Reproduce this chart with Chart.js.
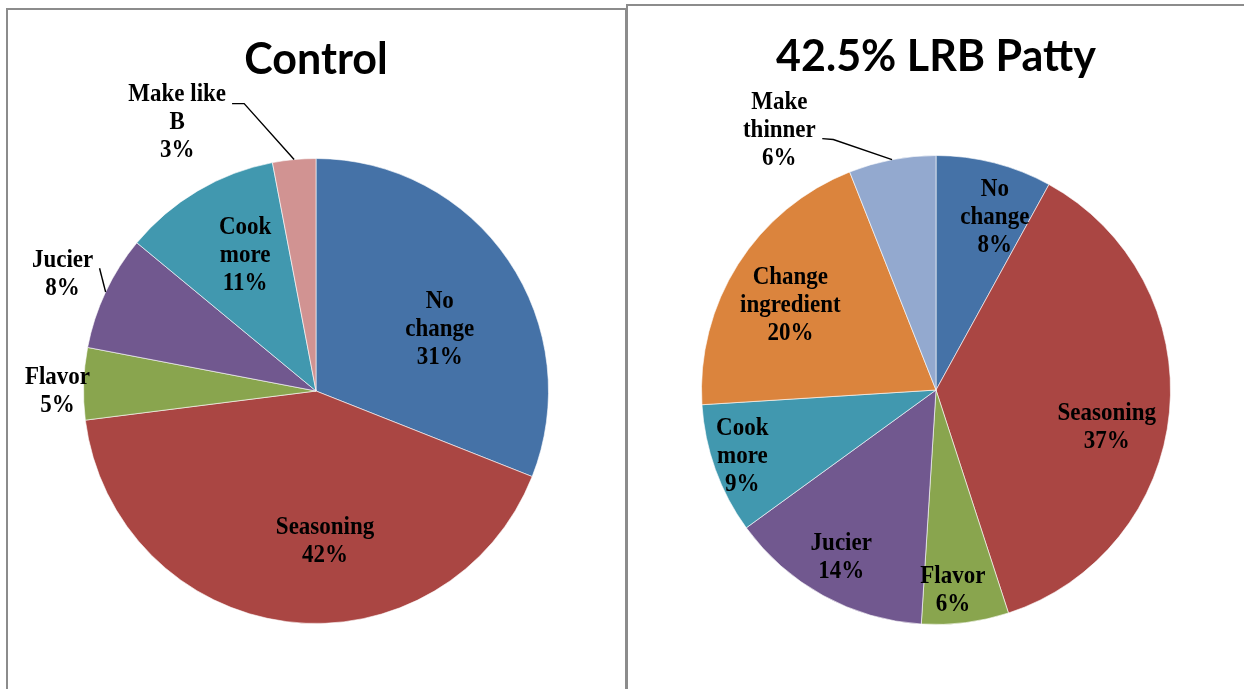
<!DOCTYPE html>
<html>
<head>
<meta charset="utf-8">
<script src="https://cdn.jsdelivr.net/npm/chart.js@4.4.1/dist/chart.umd.min.js"></script>
<style>
  html, body { margin: 0; padding: 0; background: #fff; }
  body { width: 1244px; height: 689px; position: relative; overflow: hidden; }
  .panel { position: absolute; border: 2px solid #8c8c8c; box-sizing: border-box; }
  #panelLeft { left: 6px; top: 8px; width: 621px; height: 720px; }
  #panelRight { left: 626px; top: 4px; width: 640px; height: 720px; }
  canvas { position: absolute; }
  #controlChart { left: 8px; top: 10px; }
  #lrbChart { left: 628px; top: 6px; }
</style>
</head>
<body>
<div class="panel" id="panelLeft"></div>
<div class="panel" id="panelRight"></div>
<canvas id="controlChart" width="616" height="679"></canvas>
<canvas id="lrbChart" width="616" height="683"></canvas>

<script>
// --- data ---
const controlCategories = [['No', 'change'], ['Seasoning'], ['Flavor'], ['Jucier'], ['Cook', 'more'], ['Make like', 'B']];
const controlValues = [31, 42, 5, 8, 11, 3];

const lrbCategories = [['No', 'change'], ['Seasoning'], ['Flavor'], ['Jucier'], ['Cook', 'more'], ['Change', 'ingredient'], ['Make', 'thinner']];
const lrbValues = [8, 37, 6, 14, 9, 20, 6];

// office palette
const BLUE = '#4572a7', RED = '#aa4643', GREEN = '#89a54e', PURPLE = '#71588f',
      TEAL = '#4198af', ORANGE = '#db843d', LIGHTBLUE = '#93a9cf', PINK = '#d19392';

const controlColors = [BLUE, RED, GREEN, PURPLE, TEAL, PINK];
const lrbColors = [BLUE, RED, GREEN, PURPLE, TEAL, ORANGE, LIGHTBLUE];

// label placement, as fractions of the pie radius from its centre
const controlLabelPos = [[0.532, -0.266], [0.039, 0.648], [-1.112, 0.004], [-1.09, -0.502], [-0.305, -0.584], [-0.597, -1.155]];
const lrbLabelPos = [[0.251, -0.736], [0.728, 0.162], [0.072, 0.855], [-0.404, 0.715], [-0.826, 0.285], [-0.621, -0.362], [-0.668, -1.106]];

// leader lines: index -> points (fractions of radius) before reaching the slice edge
const controlLeaders = { 3: [[-0.931, -0.528]], 5: [[-0.361, -1.236], [-0.309, -1.236]] };
const lrbLeaders = { 6: [[-0.485, -1.072], [-0.438, -1.068]] };

const LABEL_FONT = 'bold 25px "Liberation Serif", "Times New Roman", serif';
const LABEL_SQUEEZE = 0.92;   // narrower glyphs, like the printed labels
const LINE_H = 28;
const TITLE_SIZE = 43;

const pieLabels = {
    id: 'pieLabels',
    afterDatasetsDraw(chart, args, opts) {
        const ctx = chart.ctx;
        const arcs = chart.getDatasetMeta(0).data;
        const values = chart.data.datasets[0].data;
        const total = values.reduce((a, b) => a + b, 0);
        ctx.save();

        // leader lines
        ctx.strokeStyle = '#000';
        ctx.lineWidth = 1.4;
        Object.keys(opts.leaders || {}).forEach(k => {
            const arc = arcs[k];
            const p = arc.getProps(['x', 'y', 'startAngle', 'endAngle', 'outerRadius'], true);
            const mid = (p.startAngle + p.endAngle) / 2;
            ctx.beginPath();
            opts.leaders[k].forEach((pt, i) => {
                const px = p.x + pt[0] * p.outerRadius;
                const py = p.y + pt[1] * p.outerRadius;
                if (i === 0) ctx.moveTo(px, py); else ctx.lineTo(px, py);
            });
            ctx.lineTo(p.x + Math.cos(mid) * p.outerRadius, p.y + Math.sin(mid) * p.outerRadius);
            ctx.stroke();
        });

        // category + percent text
        ctx.font = LABEL_FONT;
        ctx.fillStyle = '#000';
        ctx.textAlign = 'center';
        ctx.textBaseline = 'middle';
        arcs.forEach((arc, i) => {
            const p = arc.getProps(['x', 'y', 'outerRadius'], true);
            const pos = opts.positions[i];
            const cx = p.x + pos[0] * p.outerRadius;
            const cy = p.y + pos[1] * p.outerRadius;
            const lines = chart.data.labels[i].concat([Math.round(values[i] / total * 100) + '%']);
            const top = cy - (lines.length - 1) * LINE_H / 2;
            ctx.save();
            ctx.translate(cx, 0);
            ctx.scale(LABEL_SQUEEZE, 1);
            lines.forEach((t, j) => ctx.fillText(t, 0, top + j * LINE_H));
            ctx.restore();
        });
        ctx.restore();
    }
};

function makePie(id, title, labels, values, colors, positions, leaders, box) {
    // box: pie centre/radius and title centre, in canvas pixels
    const canvas = document.getElementById(id);
    const titleH = TITLE_SIZE * 1.2;
    const padTop = box.titleY - titleH / 2;
    const padBottom = (box.cy - box.r) - padTop - titleH;
    return new Chart(canvas, {
        type: 'pie',
        data: {
            labels: labels,
            datasets: [{
                data: values,
                backgroundColor: colors,
                borderColor: 'rgba(255,255,255,0.6)',
                borderWidth: 1
            }]
        },
        options: {
            responsive: false,
            animation: false,
            layout: {
                padding: {
                    left: box.cx - box.r,
                    right: canvas.width - (box.cx + box.r),
                    top: 0,
                    bottom: canvas.height - (box.cy + box.r)
                }
            },
            plugins: {
                legend: { display: false },
                tooltip: { enabled: false },
                title: {
                    display: true,
                    text: title,
                    color: '#000',
                    font: { family: 'Lato, "Open Sans", sans-serif', size: TITLE_SIZE, weight: 'bold', lineHeight: 1.2 },
                    padding: { top: padTop, bottom: padBottom }
                },
                pieLabels: { positions: positions, leaders: leaders }
            }
        },
        plugins: [pieLabels]
    });
}

makePie('controlChart', 'Control', controlCategories, controlValues, controlColors,
    controlLabelPos, controlLeaders, { cx: 308, cy: 381, r: 233, titleY: 50 });
makePie('lrbChart', '42.5% LRB Patty', lrbCategories, lrbValues, lrbColors,
    lrbLabelPos, lrbLeaders, { cx: 308, cy: 384, r: 235, titleY: 51 });
</script>
</body>
</html>
